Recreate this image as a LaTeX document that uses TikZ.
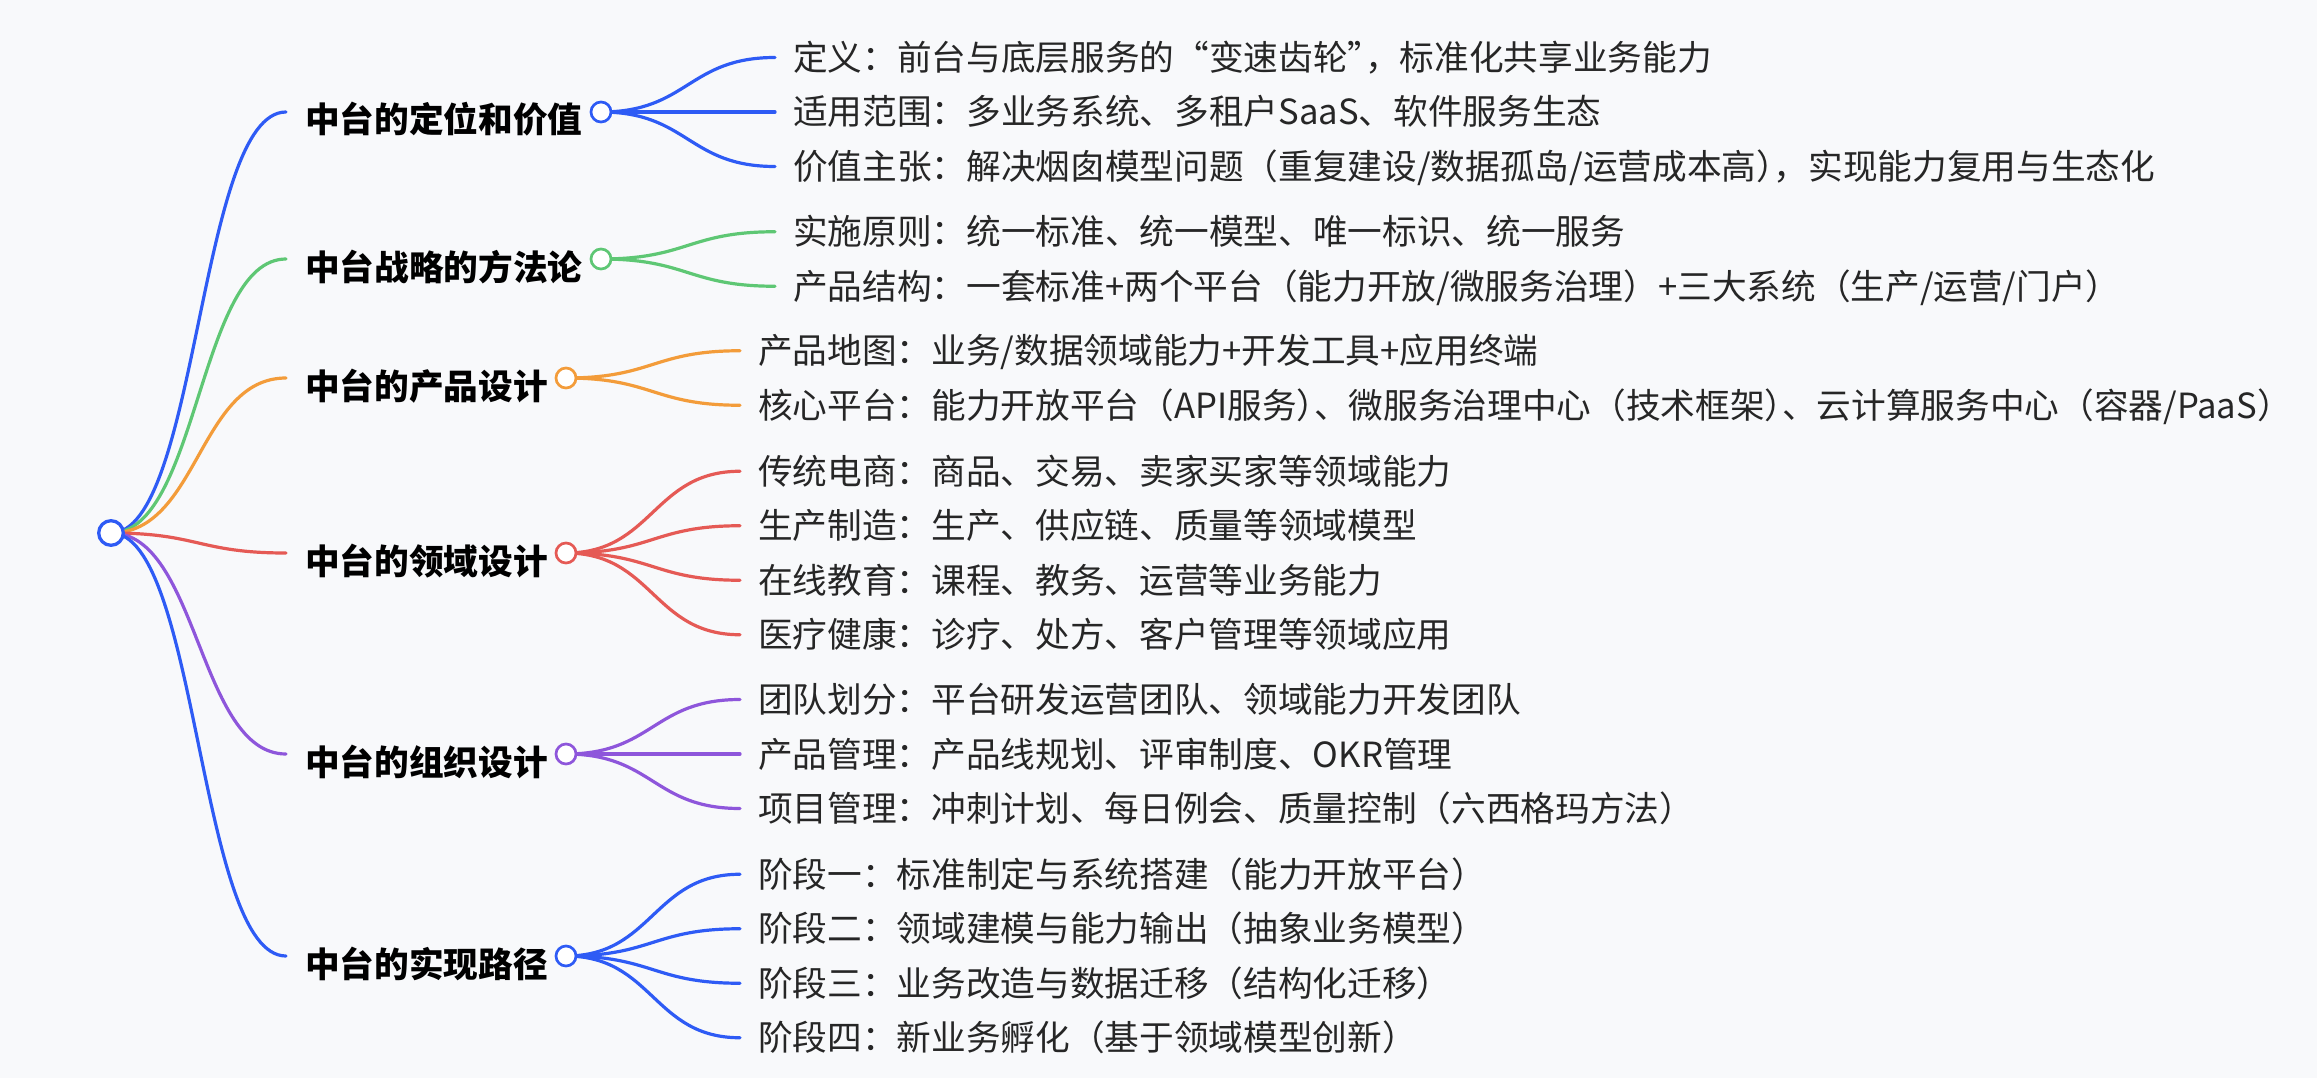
\documentclass[tikz,border=0pt]{standalone}
\usepackage{fontspec}
\newfontfamily\cjk{Noto Sans CJK SC}
\usetikzlibrary{calc,backgrounds}
\newcommand\punctrim{\kern-17.33pt\relax}
\definecolor{cblue}{HTML}{2E5BF5}
\definecolor{cgreen}{HTML}{5EC774}
\definecolor{corange}{HTML}{F39C3A}
\definecolor{cred}{HTML}{E55A55}
\definecolor{cpurple}{HTML}{8E56DB}
\definecolor{bgc}{HTML}{F8F9FB}
\definecolor{txtc}{HTML}{262626}
\tikzset{
  hlink/.style={draw=#1, line width=3.2pt, line cap=round,
    to path={let \p1=(\tikztostart), \p2=(\tikztotarget) in
      .. controls ({(\x1+\x2)/2},\y1) and ({(\x1+\x2)/2},\y2) .. (\tikztotarget)}},
  rootcirc/.style={circle, draw=cblue, fill=white, line width=3.3pt, minimum size=24.6pt, inner sep=0pt},
  lonecirc/.style={circle, draw=#1, fill=white, line width=2.7pt, minimum size=20pt, inner sep=0pt},
  lonetext/.style={anchor=base west, inner sep=0pt, text=black, font=\cjk\bfseries\fontsize{34.67}{40}\selectfont},
  leaftext/.style={anchor=base west, inner sep=0pt, text=txtc, font=\cjk\fontsize{34.67}{40}\selectfont}
}
\begin{document}
\begin{tikzpicture}[x=1pt,y=-1pt]
\begin{scope}[on background layer]
\fill[bgc] (0,0) rectangle (2317,1078);
\end{scope}
\useasboundingbox (0,0) rectangle (2317,1078);

% root
\node[rootcirc] (root) at (111,533) {};

% level 1 texts and circles
\node[lonetext] (t1) at (305,133) {中台的定位和价值};
\node[lonecirc=cblue] (n1) at (601,112) {};
\node[lonetext] (t2) at (305,280) {中台战略的方法论};
\node[lonecirc=cgreen] (n2) at (601,259) {};
\node[lonetext] (t3) at (305,399) {中台的产品设计};
\node[lonecirc=corange] (n3) at (566,378) {};
\node[lonetext] (t4) at (305,574) {中台的领域设计};
\node[lonecirc=cred] (n4) at (566,553) {};
\node[lonetext] (t5) at (305,775) {中台的组织设计};
\node[lonecirc=cpurple] (n5) at (566,754) {};
\node[lonetext] (t6) at (305,977) {中台的实现路径};
\node[lonecirc=cblue] (n6) at (566,956) {};

% leaves
\node[leaftext] (a1) at (793,70.5) {定义：前台与底层服务的“变速齿轮”\punctrim，标准化共享业务能力};
\node[leaftext] (a2) at (793,125) {适用范围：多业务系统、多租户SaaS、软件服务生态};
\node[leaftext] (a3) at (793,179.5) {价值主张：解决烟囱模型问题（重复建设/数据孤岛/运营成本高）\punctrim，实现能力复用与生态化};
\node[leaftext] (b1) at (793,244.75) {实施原则：统一标准、统一模型、唯一标识、统一服务};
\node[leaftext] (b2) at (793,299.25) {产品结构：一套标准+两个平台（能力开放/微服务治理）+三大系统（生产/运营/门户）};
\node[leaftext] (c1) at (758,363.75) {产品地图：业务/数据领域能力+开发工具+应用终端};
\node[leaftext] (c2) at (758,418.25) {核心平台：能力开放平台（API服务）\punctrim、微服务治理中心（技术框架）\punctrim、云计算服务中心（容器/PaaS）};
\node[leaftext] (d1) at (758,484.25) {传统电商：商品、交易、卖家买家等领域能力};
\node[leaftext] (d2) at (758,538.75) {生产制造：生产、供应链、质量等领域模型};
\node[leaftext] (d3) at (758,593.25) {在线教育：课程、教务、运营等业务能力};
\node[leaftext] (d4) at (758,647.75) {医疗健康：诊疗、处方、客户管理等领域应用};
\node[leaftext] (e1) at (758,712.5) {团队划分：平台研发运营团队、领域能力开发团队};
\node[leaftext] (e2) at (758,767) {产品管理：产品线规划、评审制度、OKR管理};
\node[leaftext] (e3) at (758,821.5) {项目管理：冲刺计划、每日例会、质量控制（六西格玛方法）};
\node[leaftext] (f1) at (758,887.25) {阶段一：标准制定与系统搭建（能力开放平台）};
\node[leaftext] (f2) at (758,941.75) {阶段二：领域建模与能力输出（抽象业务模型）};
\node[leaftext] (f3) at (758,996.25) {阶段三：业务改造与数据迁移（结构化迁移）};
\node[leaftext] (f4) at (758,1050.75) {阶段四：新业务孵化（基于领域模型创新）};

% link ends
\foreach \t in {t1,t2,t3,t4,t5,t6}{
  \coordinate (\t-end) at ($(\t.base west)+(-19,-21)$);
}
\foreach \t in {a1,a2,a3,b1,b2,c1,c2,d1,d2,d3,d4,e1,e2,e3,f1,f2,f3,f4}{
  \coordinate (\t-end) at ($(\t.base west)+(-18,-13)$);
}

\begin{scope}[on background layer]
\draw[hlink=cblue] (root.center) to (t1-end);
\draw[hlink=cgreen] (root.center) to (t2-end);
\draw[hlink=corange] (root.center) to (t3-end);
\draw[hlink=cred] (root.center) to (t4-end);
\draw[hlink=cpurple] (root.center) to (t5-end);
\draw[hlink=cblue] (root.center) to (t6-end);
\foreach \l in {a1,a2,a3}{\draw[hlink=cblue] (n1.center) to (\l-end);}
\foreach \l in {b1,b2}{\draw[hlink=cgreen] (n2.center) to (\l-end);}
\foreach \l in {c1,c2}{\draw[hlink=corange] (n3.center) to (\l-end);}
\foreach \l in {d1,d2,d3,d4}{\draw[hlink=cred] (n4.center) to (\l-end);}
\foreach \l in {e1,e2,e3}{\draw[hlink=cpurple] (n5.center) to (\l-end);}
\foreach \l in {f1,f2,f3,f4}{\draw[hlink=cblue] (n6.center) to (\l-end);}
\end{scope}
\end{tikzpicture}
\end{document}
